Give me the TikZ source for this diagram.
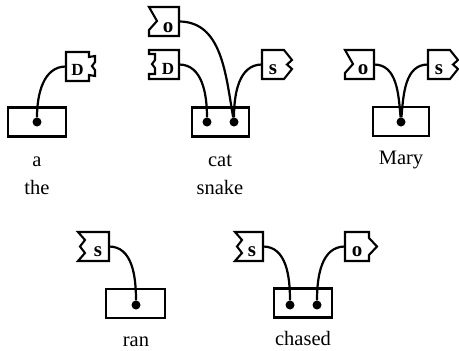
\documentclass[tikz,border=0pt]{standalone}
\usepackage{fontspec}
\setmainfont{Liberation Serif}
\usetikzlibrary{calc}
\tikzset{ tagline/.style={line width=2.1pt,line join=miter},
  wordbox/.style={draw,line width=2.1pt,minimum width=#1,minimum height=29pt,inner sep=0pt},
  wire/.style={line width=2.2pt},
  dot/.style={circle,fill,inner sep=0pt,minimum size=9pt},
  letter/.style={anchor=base,font=\fontsize{21}{21}\selectfont\bfseries},
  word/.style={anchor=base,font=\fontsize{20.5}{22}\selectfont} }
% edges of a tag, right side drawn downwards, left side upwards
\newcommand{\rflat}{-- ++(0,-29)}
\newcommand{\rplugD}{-- ++(0,-5) -- ++(6,1) -- ++(0,-6) -- ++(-3,-4) -- ++(3,-4) -- ++(0,-6) -- ++(-6,1) -- ++(0,-6)}
\newcommand{\rplugS}{-- ++(8,-10) -- ++(-5,-4.5) -- ++(5,-4.5) -- ++(-8,-10)}
\newcommand{\rplugO}{-- ++(0,-6) -- ++(8,-8.5) -- ++(-8,-8.5) -- ++(0,-6)}
\newcommand{\lflat}{-- ++(0,29)}
\newcommand{\lsockO}{-- ++(0,6) -- ++(8,9) -- ++(-8,14)}
\newcommand{\lsockD}{-- ++(0,5) -- ++(6,0) -- ++(0,6) -- ++(-3,4) -- ++(3,4) -- ++(0,6) -- ++(-6,0) -- ++(0,4)}
\newcommand{\lsockS}{-- ++(7,8) -- ++(-5,6.5) -- ++(5,6.5) -- ++(-7,8)}
% name, left x, top y, width, left edge, right edge
\newcommand{\conntag}[6]{%
  \draw[tagline] (#2,#3) -- ++(#4,0) #6 -- (#2,#3-29) #5 -- cycle;
  \coordinate (#1-w) at (#2,#3-14.5);
  \coordinate (#1-e) at (#2+#4,#3-14.5);}

\begin{document}
\begin{tikzpicture}[x=1pt,y=1pt]
  \useasboundingbox (0,0) rectangle (459,-351);
  % a / the
  \node[wordbox=58pt] (abox) at (37,-122) {};
  \node[dot] (adot) at (37,-122) {};
  \conntag{aD}{66}{-52}{23}{\lflat}{\rplugD}
  \node[letter,font=\fontsize{17}{17}\selectfont\bfseries] (aDl) at (77.5,-75) {D};
  \draw[wire] (aD-w) to[out=180,in=90] (adot);
  \node[word] (wa) at (37,-166) {a};
  \node[word] (wthe) at (37,-194) {the};
  % cat / snake
  \node[wordbox=57pt] (catbox) at (220.5,-122) {};
  \node[dot] (catdot1) at (207,-122) {};
  \node[dot] (catdot2) at (234,-122) {};
  \conntag{catO}{149}{-7}{30}{\lsockO}{\rflat}
  \node[letter] (catOl) at (168,-32) {o};
  \conntag{catD}{149}{-50}{30}{\lsockD}{\rflat}
  \node[letter,font=\fontsize{17}{17}\selectfont\bfseries] (catDl) at (168,-74) {D};
  \conntag{catS}{262}{-50}{22}{\lflat}{\rplugS}
  \node[letter] (catSl) at (273,-74) {s};
  \draw[wire] (catO-e) to[out=0,in=100] (catdot2);
  \draw[wire] (catD-e) to[out=0,in=90] (catdot1);
  \draw[wire] (catS-w) to[out=180,in=90] (catdot2);
  \node[word] (wcat) at (220,-166) {cat};
  \node[word] (wsnake) at (220,-194) {snake};
  % Mary
  \node[wordbox=56pt] (marybox) at (401,-121.5) {};
  \node[dot] (marydot) at (401,-122) {};
  \conntag{maryO}{345}{-50}{29}{\lsockO}{\rflat}
  \node[letter] (maryOl) at (363,-74) {o};
  \conntag{maryS}{428}{-50}{22}{\lflat}{\rplugS}
  \node[letter] (marySl) at (439,-74) {s};
  \draw[wire] (maryO-e) to[out=0,in=95] (marydot);
  \draw[wire] (maryS-w) to[out=180,in=85] (marydot);
  \node[word] (wmary) at (401,-164) {Mary};
  % ran
  \node[wordbox=59pt] (ranbox) at (135.5,-303.5) {};
  \node[dot] (randot) at (136,-305) {};
  \conntag{ranS}{78}{-232}{31}{\lsockS}{\rflat}
  \node[letter] (ranSl) at (98,-256) {s};
  \draw[wire] (ranS-e) to[out=0,in=90] (randot);
  \node[word] (wran) at (136,-346) {ran};
  % chased
  \node[wordbox=58pt] (chasedbox) at (303,-303) {};
  \node[dot] (chaseddot1) at (290,-305) {};
  \node[dot] (chaseddot2) at (317,-305) {};
  \conntag{chasedS}{235}{-232}{28}{\lsockS}{\rflat}
  \node[letter] (chasedSl) at (252,-256) {s};
  \conntag{chasedO}{345}{-232}{24}{\lflat}{\rplugO}
  \node[letter] (chasedOl) at (357,-256) {o};
  \draw[wire] (chasedS-e) to[out=0,in=90] (chaseddot1);
  \draw[wire] (chasedO-w) to[out=180,in=90] (chaseddot2);
  \node[word] (wchased) at (303,-345) {chased};
\end{tikzpicture}
\end{document}
